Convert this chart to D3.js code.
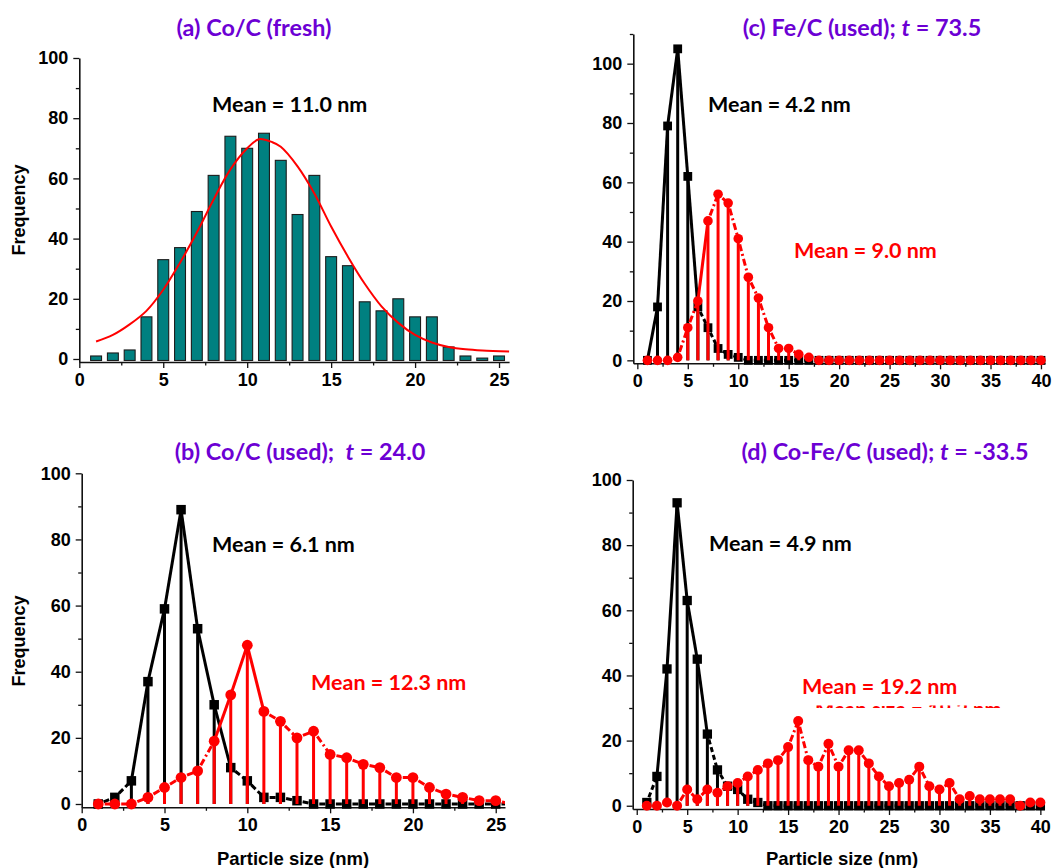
<!DOCTYPE html>
<html>
<head>
<meta charset="utf-8">
<script src="https://cdn.jsdelivr.net/npm/d3@7/dist/d3.min.js"></script>
<style>
  html, body { margin: 0; padding: 0; background: #ffffff; }
  svg { display: block; }
</style>
</head>
<body>
<svg id="fig" width="1056" height="868"></svg>
<script>
// ---------------- data ----------------
// (a) Co/C fresh: histogram counts per 1 nm bin, plus the fitted distribution
const sizesA = [1,2,3,4,5,6,7,8,9,10,11,12,13,14,15,16,17,18,19,20,21,22,23,24,25];
const countsA = [1,2,3,14,33,37,49,61,74,70,75,66,48,61,34,31,19,16,20,14,14,4,1,0.3,1];
const fitAx = [1,2,3,4,5,6,7,8,9,10,10.7,11.5,12,13,14,15,16,17,18,19,20,21,22,23,24,25.6];
const fitAy = [5.8,8,11.5,16,23,32,42,53,63,70,73,72,70.5,64,55,44,34,25,17.5,12,8,5.5,4,3.2,2.8,2.5];

// (b) Co/C used
const sizesB = [1,2,3,4,5,6,7,8,9,10,11,12,13,14,15,16,17,18,19,20,21,22,23,24,25,26];
const blackB = [0,2,7,37,59,89,53,30,11,7,2,2,1,0,0,0,0,0,0,0,0,0,0,0,0,0];
const redB   = [0,0,0,2,5,8,10,19,33,48,28,25,20,22,15,14,12,11,8,8,5,3,2,1,1,0];

// (c) Fe/C used
const sizesCD = [1,2,3,4,5,6,7,8,9,10,11,12,13,14,15,16,17,18,19,20,21,22,23,24,25,26,27,28,29,30,31,32,33,34,35,36,37,38,39,40];
const blackC = [0,18,79,105,62,18,11,4,2,1,0,0,0,0,0,0,0,0,0,0,0,0,0,0,0,0,0,0,0,0,0,0,0,0,0,0,0,0,0,0];
const redC   = [0,0,0,1,11,20,47,56,53,41,28,21,11,4,4,2,1,0,0,0,0,0,0,0,0,0,0,0,0,0,0,0,0,0,0,0,0,0,0,0];

// (d) Co-Fe/C used
const blackD = [1,9,42,93,63,45,22,11,6,5,2,1,0,0,0,0,0,0,0,0,0,0,0,0,0,0,0,0,0,0,0,0,0,0,0,0,0,0,0,0];
const redD   = [0,0,1,0,5,2,5,4,6,7,9,11,13,14,18,26,14,12,19,12,17,17,13,9,6,7,8,12,6,5,7,2,3,2,2,2,2,0,1,1];

// tick values
const yMajor = [0,20,40,60,80,100];
const yMinor = [10,30,50,70,90];
const yMinorC = [10,30,50,70,90,110];
const xMajor25 = [0,5,10,15,20,25];
const xMinor25 = [2.5,7.5,12.5,17.5,22.5];
const xMajor40 = [0,5,10,15,20,25,30,35,40];
const xMinor40 = [2.5,7.5,12.5,17.5,22.5,27.5,32.5,37.5];

// ---------------- styling ----------------
const RED = "#ff0000";
const BLACK = "#000000";
const TEAL = "#008080";
const PURPLE = "#6c00d4";
const AXIS_FONT = "'Liberation Sans', Arial, sans-serif";
const NOTE_FONT = "Lato, 'Open Sans', sans-serif";
const TITLE_SIZE = 23.4;
const NOTE_SIZE = 21.5;

const svg = d3.select("#fig");

function makeAxes(g, x, y, xMaj, xMin, yMaj, yMin) {
  const x0 = x.range()[0], yb = y.range()[0];
  g.append("g").attr("transform", `translate(0,${yb})`)
    .call(d3.axisBottom(x).tickValues(xMaj).tickSize(6).tickSizeOuter(0).tickPadding(5).tickFormat(d3.format("d")));
  g.append("g").attr("transform", `translate(0,${yb})`)
    .call(d3.axisBottom(x).tickValues(xMin).tickSize(3.5).tickSizeOuter(0).tickFormat(""))
    .select(".domain").remove();
  g.append("g").attr("transform", `translate(${x0},0)`)
    .call(d3.axisLeft(y).tickValues(yMaj).tickSize(6).tickSizeOuter(0).tickPadding(5).tickFormat(d3.format("d")));
  g.append("g").attr("transform", `translate(${x0},0)`)
    .call(d3.axisLeft(y).tickValues(yMin).tickSize(3.5).tickSizeOuter(0).tickFormat(""))
    .select(".domain").remove();
  g.selectAll(".domain").attr("stroke", "#111").attr("stroke-width", 1.6);
  g.selectAll(".tick line").attr("stroke", "#111").attr("stroke-width", 1.3);
  g.selectAll(".tick text")
    .attr("font-family", AXIS_FONT).attr("font-weight", "bold")
    .attr("font-size", 18).attr("fill", "#000");
}

function title(g, cx, yBase, parts) {
  const t = g.append("text").attr("x", cx).attr("y", yBase)
    .attr("text-anchor", "middle").attr("font-family", NOTE_FONT)
    .attr("font-weight", "bold").attr("font-size", TITLE_SIZE).attr("fill", PURPLE);
  parts.forEach(p => t.append("tspan").attr("font-style", p.italic ? "italic" : null)
    .attr("xml:space", "preserve").text(p.text));
}

function note(g, x, yBase, txt, color) {
  g.append("text").attr("x", x).attr("y", yBase)
    .attr("font-family", NOTE_FONT).attr("font-weight", "bold")
    .attr("font-size", NOTE_SIZE).attr("fill", color).text(txt);
}

function yLabel(g, cx, cy) {
  g.append("text").attr("transform", `translate(${cx},${cy}) rotate(-90)`)
    .attr("text-anchor", "middle").attr("font-family", AXIS_FONT)
    .attr("font-weight", "bold").attr("font-size", 18).text("Frequency");
}

function xLabel(g, cx, yBase) {
  g.append("text").attr("x", cx).attr("y", yBase).attr("text-anchor", "middle")
    .attr("font-family", AXIS_FONT).attr("font-weight", "bold")
    .attr("font-size", 18.5).text("Particle size (nm)");
}

let clipCount = 0;
// drop-line + symbol + connecting line series
function series(g, x, y, xs, vs, color, shape, dash, size) {
  const xMax = x.domain()[1];
  const pts = xs.map((d, i) => ({ x: d, v: vs[i] }));
  const inside = pts.filter(p => p.x <= xMax);
  const y0 = y(0);

  // clip connecting lines to the axis frame
  const id = "clip" + (clipCount++);
  g.append("clipPath").attr("id", id).append("rect")
    .attr("x", x.range()[0]).attr("y", 0)
    .attr("width", x.range()[1] - x.range()[0]).attr("height", 868);

  // vertical drop lines
  g.append("g").selectAll("line").data(inside.filter(p => p.v > 0)).join("line")
    .attr("x1", p => x(p.x)).attr("x2", p => x(p.x))
    .attr("y1", y0).attr("y2", p => y(p.v))
    .attr("stroke", color).attr("stroke-width", 3);

  // connecting segments; short segments show the dash pattern
  const lg = g.append("g").attr("clip-path", `url(#${id})`);
  d3.pairs(pts).forEach(([a, b]) => {
    const x1 = x(a.x), y1 = y(a.v), x2 = x(b.x), y2 = y(b.v);
    const len = Math.hypot(x2 - x1, y2 - y1);
    const ln = lg.append("line").attr("x1", x1).attr("y1", y1).attr("x2", x2).attr("y2", y2)
      .attr("stroke", color).attr("stroke-width", 3);
    if (len < 45) ln.attr("stroke-dasharray", dash).attr("stroke-dashoffset", -size / 2 - 1);
  });

  // symbols
  const sg = g.append("g");
  if (shape === "square") {
    sg.selectAll("rect").data(inside).join("rect")
      .attr("x", p => x(p.x) - size / 2).attr("y", p => y(p.v) - size / 2)
      .attr("width", size).attr("height", size).attr("fill", color);
  } else {
    sg.selectAll("circle").data(inside).join("circle")
      .attr("cx", p => x(p.x)).attr("cy", p => y(p.v)).attr("r", size / 2)
      .attr("fill", color);
  }
}

// ---------------- panel (a) ----------------
{
  const g = svg.append("g");
  const x = d3.scaleLinear().domain([0, 25.6]).range([79.3, 509.1]);
  const y = d3.scaleLinear().domain([-1, 100]).range([362, 58]);
  const bw = x(0.65) - x(0);
  g.append("g").selectAll("rect").data(sizesA.map((s, i) => ({ s, c: countsA[i] }))).join("rect")
    .attr("x", d => x(d.s) - bw / 2).attr("width", bw)
    .attr("y", d => y(d.c)).attr("height", d => y(0) - y(d.c) + 1.5)
    .attr("fill", TEAL).attr("stroke", "#1c1c1c").attr("stroke-width", 1.1);
  const fit = fitAx.map((d, i) => [d, fitAy[i]]);
  g.append("path").datum(fit)
    .attr("d", d3.line().x(d => x(d[0])).y(d => y(d[1])).curve(d3.curveCatmullRom.alpha(0.5)))
    .attr("fill", "none").attr("stroke", RED).attr("stroke-width", 2);
  makeAxes(g, x, y, xMajor25, xMinor25, yMajor, yMinor);
  title(g, 254, 36, [{ text: "(a) Co/C (fresh)" }]);
  note(g, 212, 112, "Mean = 11.0 nm", BLACK);
  yLabel(g, 25, 210);
}

// ---------------- panel (b) ----------------
{
  const g = svg.append("g");
  const x = d3.scaleLinear().domain([0, 25.56]).range([81.7, 505]);
  const y = d3.scaleLinear().domain([-1, 100]).range([807.3, 473.3]);
  makeAxes(g, x, y, xMajor25, xMinor25, yMajor, yMinor);
  series(g, x, y, sizesB, blackB, BLACK, "square", "6,3", 9.5);
  series(g, x, y, sizesB, redB, RED, "circle", "7,3,2,3", 10.8);
  title(g, 300, 460, [{ text: "(b) Co/C (used);  " }, { text: "t", italic: true }, { text: " = 24.0" }]);
  note(g, 212, 552, "Mean = 6.1 nm", BLACK);
  note(g, 311, 690, "Mean = 12.3 nm", RED);
  yLabel(g, 25, 641);
  xLabel(g, 293, 864.5);
}

// ---------------- panel (c) ----------------
{
  const g = svg.append("g");
  const x = d3.scaleLinear().domain([-0.4, 40.4]).range([633.3, 1045]);
  const y = d3.scaleLinear().domain([-1, 110]).range([363.3, 34]);
  makeAxes(g, x, y, xMajor40, xMinor40, yMajor, yMinorC);
  series(g, x, y, sizesCD, blackC, BLACK, "square", "5,3", 8.8);
  series(g, x, y, sizesCD, redC, RED, "circle", "7,3,2,3", 9.6);
  title(g, 862, 36, [{ text: "(c) Fe/C (used); " }, { text: "t", italic: true }, { text: " = 73.5" }]);
  note(g, 708, 112, "Mean = 4.2 nm", BLACK);
  note(g, 794, 258, "Mean = 9.0 nm", RED);
}

// ---------------- panel (d) ----------------
{
  const g = svg.append("g");
  const x = d3.scaleLinear().domain([-0.4, 40.4]).range([632.7, 1044.4]);
  const y = d3.scaleLinear().domain([-1, 100]).range([809, 480]);
  makeAxes(g, x, y, xMajor40, xMinor40, yMajor, yMinor);
  series(g, x, y, sizesCD, blackD, BLACK, "square", "5,3", 9.3);
  series(g, x, y, sizesCD, redD, RED, "circle", "7,3,2,3", 10);
  title(g, 885, 460, [{ text: "(d) Co-Fe/C (used); " }, { text: "t", italic: true }, { text: " = -33.5" }]);
  note(g, 709, 551, "Mean = 4.9 nm", BLACK);
  note(g, 802, 694, "Mean = 19.2 nm", RED);
  // a second caption sits mostly under the first; only a thin band of it stays visible
  g.append("clipPath").attr("id", "ghostBand").append("rect")
    .attr("x", 800).attr("y", 705.5).attr("width", 220).attr("height", 2.5);
  g.append("g").attr("clip-path", "url(#ghostBand)")
    .append("text").attr("x", 815).attr("y", 716.5)
    .attr("font-family", NOTE_FONT).attr("font-weight", "bold")
    .attr("font-size", NOTE_SIZE * 0.95).attr("fill", RED).text("Mean size = 19.2 nm");
  xLabel(g, 842, 864.5);
}
</script>
</body>
</html>
